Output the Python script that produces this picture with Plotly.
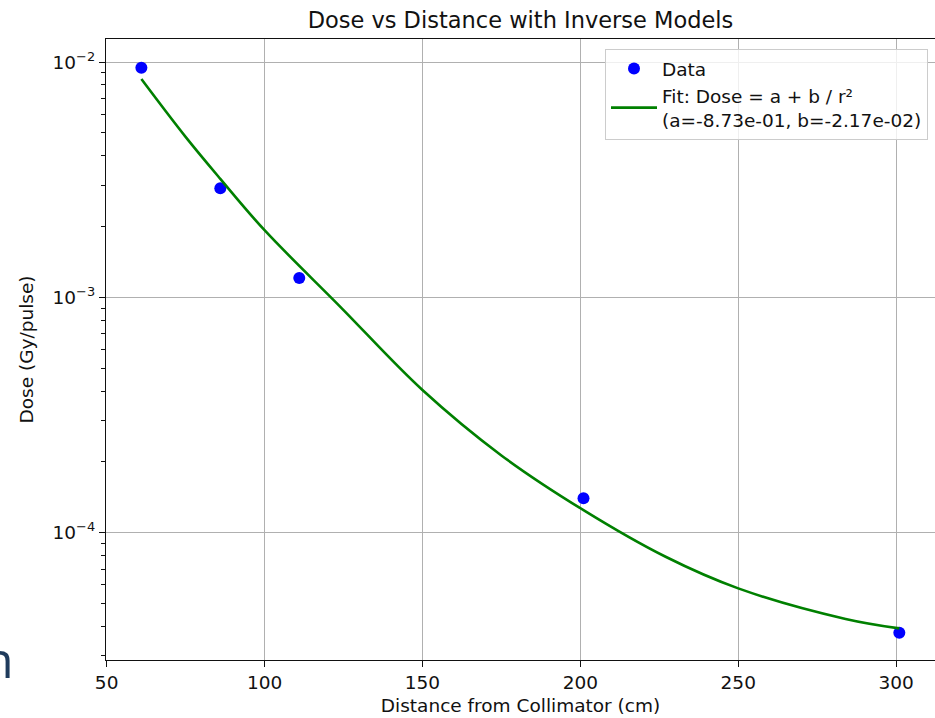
import plotly.graph_objects as go

# Measured data points
distance_cm = [61, 86, 111, 201, 301]
dose_gy = [0.00946, 0.00291, 0.00121, 1.40e-4, 3.76e-5]

# Fitted curve
fit_x = [61, 75, 86, 100, 124, 150, 175, 201, 227, 250, 284, 301]
fit_y = [8.47e-3, 4.81e-3, 3.19e-3, 1.93e-3, 9.12e-4, 4.04e-4, 2.13e-4,
         1.247e-4, 7.9e-5, 5.80e-5, 4.30e-5, 3.92e-5]

x_ticks = [50, 100, 150, 200, 250, 300]
y_ticks = [1e-4, 1e-3, 1e-2]
y_ticktext = ["10<sup>−4</sup>", "10<sup>−3</sup>", "10<sup>−2</sup>"]
minor_y = [k * 10.0 ** e for e in (-5, -4, -3) for k in range(2, 10)]

FONT = "DejaVu Sans"
FS = 18.5
INK = "#111111"
W, H = 935, 718
L, R, T, B = 106, 0, 39, 58
pw, ph = W - L - R, H - T - B

fig = go.Figure()
fig.add_trace(go.Scatter(
    x=distance_cm, y=dose_gy, mode="markers", name="Data",
    marker=dict(color="#0000ff", size=12, line=dict(width=0)),
))
fig.add_trace(go.Scatter(
    x=fit_x, y=fit_y, mode="lines",
    name="Fit: Dose = a + b / r²<br>(a=-8.73e-01, b=-2.17e-02)",
    line=dict(color="#008000", width=2.6, shape="spline", smoothing=1.0),
))

fig.update_layout(
    width=W, height=H,
    margin=dict(l=L, r=R, t=T, b=B, pad=0),
    paper_bgcolor="white", plot_bgcolor="white",
    font=dict(family=FONT, size=FS, color=INK),
    title=dict(text="Dose vs Distance with Inverse Models",
               x=(L + pw / 2) / W, xanchor="center",
               y=1 - 20 / H, yanchor="middle",
               font=dict(size=22.5, family=FONT, color=INK)),
    showlegend=True,
    legend=dict(
        x=(928 - L) / pw, xanchor="right",
        y=(H - B - 49) / ph, yanchor="top",
        bgcolor="rgba(255,255,255,0.8)", bordercolor="#cccccc", borderwidth=1,
        font=dict(size=FS, family=FONT, color=INK),
        itemwidth=46, tracegroupgap=2,
    ),
)

fig.update_xaxes(
    range=[49.8, 312.3], tickvals=x_ticks,
    showgrid=True, gridcolor="#b0b0b0", gridwidth=1.1,
    showline=True, linecolor=INK, linewidth=1.3, mirror=True,
    ticks="outside", ticklen=6, tickwidth=1.2, tickcolor=INK,
    zeroline=False,
    title=dict(text="Distance from Collimator (cm)", standoff=6,
               font=dict(size=FS, family=FONT, color=INK)),
)
fig.update_yaxes(
    type="log", range=[-4.541, -1.902],
    tickvals=y_ticks, ticktext=y_ticktext,
    showgrid=True, gridcolor="#b0b0b0", gridwidth=1.1,
    showline=True, linecolor=INK, linewidth=1.3,
    ticks="outside", ticklen=6, tickwidth=1.2, tickcolor=INK,
    minor=dict(tickvals=minor_y, ticks="outside", ticklen=3.5, tickwidth=1,
               tickcolor=INK, showgrid=False),
    zeroline=False,
    title=dict(text="Dose (Gy/pulse)", standoff=14,
               font=dict(size=FS, family=FONT, color=INK)),
)

# Fragment of slide text visible at the left edge
fig.add_annotation(
    text="n", xref="paper", yref="paper",
    x=(16 - L) / pw, xanchor="right",
    y=(H - B - 695) / ph, yanchor="bottom",
    showarrow=False,
    font=dict(family="Open Sans", size=50, color="#1f3b5c"),
)

fig.write_html("out.html")
